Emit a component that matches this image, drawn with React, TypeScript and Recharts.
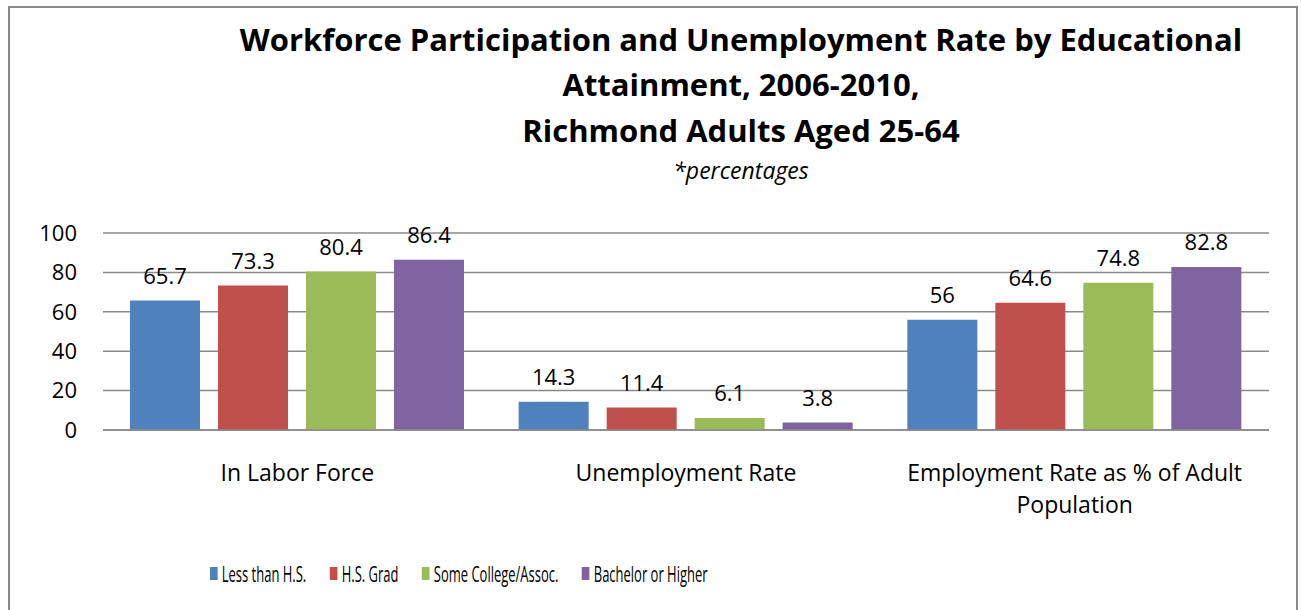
import { BarChart, Bar, XAxis, YAxis, CartesianGrid, LabelList } from 'recharts'

// ─── Data ─────────────────────────────────────────────────────────────────────

const categories = ['In Labor Force', 'Unemployment Rate', 'Employment Rate as % of Adult Population']
const seriesNames = ['Less than H.S.', 'H.S. Grad', 'Some College/Assoc.', 'Bachelor or Higher']
const lessThanHS = [65.7, 14.3, 56]
const hsGrad = [73.3, 11.4, 64.6]
const someCollege = [80.4, 6.1, 74.8]
const bachelor = [86.4, 3.8, 82.8]
const yTicks = [0, 20, 40, 60, 80, 100]

const COLORS = ['#4F81BD', '#C0504D', '#9BBB59', '#8064A2']
const FONT = '"Open Sans", Calibri, sans-serif'
const GRID = '#8a8a8a'

const seriesValues = [lessThanHS, hsGrad, someCollege, bachelor]
const data = categories.map((name, i) => {
  const row: Record<string, string | number> = { name }
  seriesNames.forEach((s, j) => { row[s] = seriesValues[j][i] })
  return row
})

// ─── Helpers ──────────────────────────────────────────────────────────────────

let ctx: CanvasRenderingContext2D | null = null
function wrap(text: string, maxWidth: number, font: string): string[] {
  if (!ctx) ctx = document.createElement('canvas').getContext('2d')
  if (!ctx) return [text]
  ctx.font = font
  const lines: string[] = []
  let cur = ''
  for (const w of text.split(' ')) {
    const next = cur ? `${cur} ${w}` : w
    if (cur && ctx.measureText(next).width > maxWidth) {
      lines.push(cur)
      cur = w
    } else cur = next
  }
  if (cur) lines.push(cur)
  return lines
}

// ─── Axis tick ────────────────────────────────────────────────────────────────

function CategoryTick({ x, y, payload }: any) {
  const lines = wrap(String(payload.value), 360, `23px ${FONT}`)
  return (
    <text x={x} y={y} textAnchor="middle" fill="#000" fontFamily={FONT} fontSize={23}>
      {lines.map((l, i) => (
        <tspan key={i} x={x} y={y + 51 + i * 32}>{l}</tspan>
      ))}
    </text>
  )
}

// ─── Legend ───────────────────────────────────────────────────────────────────

function ChartLegend() {
  return (
    <div
      style={{
        position: 'absolute', left: 210, top: 558, display: 'flex', alignItems: 'center',
        transform: 'scaleX(0.59)', transformOrigin: 'left center', whiteSpace: 'nowrap',
        fontFamily: FONT, fontSize: 22, color: '#000',
      }}
    >
      {seriesNames.map((s, i) => (
        <div key={s} style={{ display: 'flex', alignItems: 'center', marginRight: 40 }}>
          <span style={{ width: 13, height: 13, background: COLORS[i], marginRight: 7, display: 'inline-block' }} />
          <span>{s}</span>
        </div>
      ))}
    </div>
  )
}

// ─── Component ────────────────────────────────────────────────────────────────

export default function App() {
  return (
    <div style={{ position: 'fixed', left: 0, top: 0, width: 1301, height: 610, background: '#fff', overflow: 'hidden' }}>
      <div
        style={{
          position: 'absolute', left: 8, top: 6, width: 1290, height: 640,
          border: `2px solid ${GRID}`, boxSizing: 'border-box',
        }}
      />

      <svg width={1301} height={200} style={{ position: 'absolute', left: 0, top: 0 }}>
        <g fontFamily={FONT} fontWeight={700} fontSize={31} textAnchor="middle" fill="#000">
          <text x={741} y={51}>Workforce Participation and Unemployment Rate by Educational</text>
          <text x={741} y={96}>Attainment, 2006-2010,</text>
          <text x={741} y={142}>Richmond Adults Aged 25-64</text>
        </g>
        <text x={741} y={179} fontFamily={FONT} fontStyle="italic" fontSize={23} textAnchor="middle" fill="#000">
          *percentages
        </text>
      </svg>

      <div style={{ position: 'absolute', left: 0, top: 0 }}>
        <BarChart
          width={1301}
          height={610}
          data={data}
          margin={{ top: 233, right: 32, left: 43, bottom: 100 }}
          barSize={70}
          barGap={18}
        >
          <CartesianGrid vertical={false} stroke={GRID} strokeWidth={1.5} />
          <XAxis
            dataKey="name"
            height={80}
            axisLine={{ stroke: GRID, strokeWidth: 1.5 }}
            tickLine={false}
            tickSize={0}
            tickMargin={0}
            tick={<CategoryTick />}
            interval={0}
          />
          <YAxis
            width={60}
            domain={[0, 100]}
            ticks={yTicks}
            axisLine={false}
            tickLine={false}
            tickSize={0}
            tickMargin={26}
            tick={{ fill: '#000', fontSize: 22, fontFamily: FONT }}
          />
          {seriesNames.map((s, i) => (
            <Bar key={s} dataKey={s} fill={COLORS[i]} isAnimationActive={false}>
              <LabelList
                dataKey={s}
                position="top"
                offset={17}
                fill="#000"
                style={{ fontSize: 22, fontFamily: FONT }}
              />
            </Bar>
          ))}
        </BarChart>
      </div>

      <ChartLegend />
    </div>
  )
}
